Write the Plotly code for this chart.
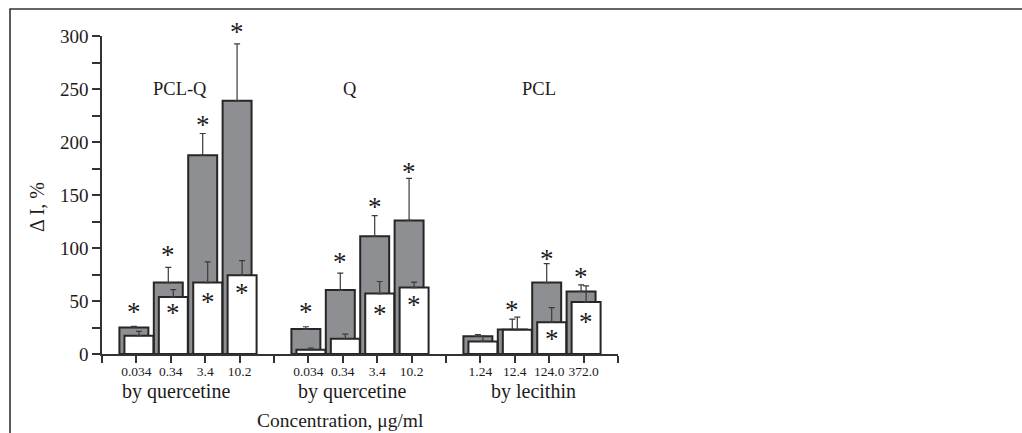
import plotly.graph_objects as go

# ---- data ----
slot_labels = ["", "0.034", "0.34", "3.4", "10.2", "", "0.034", "0.34", "3.4", "10.2",
               "", "1.24", "12.4", "124.0", "372.0", ""]
slots = [1, 2, 3, 4, 6, 7, 8, 9, 11, 12, 13, 14]

gray_vals = [25.0, 67.4, 187.5, 239.0, 23.5, 60.3, 111.0, 126.0, 16.7, 23.0, 67.4, 59.0]
gray_err = [1.0, 14.4, 20.5, 53.5, 2.2, 16.0, 19.5, 39.7, 1.7, 9.9, 17.9, 6.2]
white_vals = [17.2, 53.7, 67.4, 74.4, 4.0, 14.4, 57.0, 62.7, 11.9, 22.8, 30.0, 49.0]
white_err = [4.1, 7.1, 19.6, 13.6, 1.6, 4.4, 11.4, 5.1, 5.1, 11.9, 13.8, 15.3]

# asterisk heights (None = no asterisk)
star_above = [42.7, 96.3, 218.7, 306.3, 42.7, 90.0, 141.2, 174.8, None, 44.8, 92.6, 75.3]
star_inside = [None, 41.7, 52.1, 60.5, None, None, 41.0, 49.2, None, None, 16.6, 33.2]

group_names = ["PCL-Q", "Q", "PCL"]
group_name_pos = [2.28, 7.2, 12.7]
group_name_level = 250
by_labels = ["by quercetine", "by quercetine", "by lecithin"]
by_label_pos = [2.16, 7.28, 12.55]

Y_MAX = 300
y_ticks = list(range(0, Y_MAX + 1, 25))
y_ticktext = [str(v) if v % 50 == 0 else "" for v in y_ticks]

# ---- style ----
FONT = "Liberation Serif"
INK = "#1e1b1c"
GRAY = "#8e8f93"
EDGE = "#262626"
BW = 0.842
SHIFT = 0.073

fig = go.Figure()

fig.add_trace(go.Bar(
    x=slots, y=gray_vals, width=BW, offset=-SHIFT - BW / 2,
    marker=dict(color=GRAY, line=dict(color=EDGE, width=2)),
    error_y=dict(type="data", symmetric=False, array=gray_err,
                 arrayminus=[0] * len(gray_err), color="#3a3a3a",
                 thickness=1.2, width=3),
    showlegend=False, cliponaxis=False,
))
fig.add_trace(go.Bar(
    x=slots, y=white_vals, width=BW, offset=SHIFT - BW / 2,
    marker=dict(color="white", line=dict(color=EDGE, width=2)),
    error_y=dict(type="data", symmetric=False, array=white_err,
                 arrayminus=[0] * len(white_err), color="#3a3a3a",
                 thickness=1.2, width=3),
    showlegend=False, cliponaxis=False,
))

annotations = []

# asterisks (paper y = value / axis max so that ones above the range still show)
for s, v in zip(slots, star_above):
    if v is not None:
        annotations.append(dict(x=s - SHIFT, y=v / Y_MAX, xref="x", yref="paper", text="*",
                                showarrow=False, yshift=-3,
                                font=dict(family=FONT, size=27, color=INK),
                                xanchor="center", yanchor="middle"))
for s, v in zip(slots, star_inside):
    if v is not None:
        annotations.append(dict(x=s + SHIFT, y=v / Y_MAX, xref="x", yref="paper", text="*",
                                showarrow=False, yshift=-3,
                                font=dict(family=FONT, size=27, color=INK),
                                xanchor="center", yanchor="middle"))

for name, pos in zip(group_names, group_name_pos):
    annotations.append(dict(x=pos, y=group_name_level, xref="x", yref="y", text=name,
                            showarrow=False, font=dict(family=FONT, size=18.5, color=INK),
                            xanchor="center", yanchor="middle"))
for name, pos in zip(by_labels, by_label_pos):
    annotations.append(dict(x=pos, y=-0.117, xref="x", yref="paper", text=name,
                            showarrow=False, font=dict(family=FONT, size=20, color=INK),
                            xanchor="center", yanchor="middle", borderpad=0))
annotations.append(dict(x=6.92, y=-0.21, xref="x", yref="paper", text="Concentration, μg/ml",
                        showarrow=False, font=dict(family=FONT, size=19.5, color=INK),
                        xanchor="center", yanchor="middle", borderpad=0))
annotations.append(dict(x=-0.126, y=0.462, xref="paper", yref="paper", text="Δ I, %",
                        showarrow=False, textangle=-90,
                        font=dict(family=FONT, size=20, color=INK),
                        xanchor="center", yanchor="middle"))

fig.update_layout(
    width=1022, height=433,
    margin=dict(l=102, r=404, t=36, b=79),
    paper_bgcolor="white", plot_bgcolor="white",
    barmode="overlay",
    font=dict(family=FONT, color=INK),
    annotations=annotations,
    shapes=[dict(type="path", xref="paper", yref="paper",
                 path="M -0.1783,-0.26 L -0.1783,1.0849 L 1.79,1.0849",
                 line=dict(color="#333333", width=1.6))],
)
fig.update_xaxes(
    range=[0, 15], tickmode="array", tickvals=list(range(16)), ticktext=slot_labels,
    showline=True, linecolor="#333333", linewidth=1.6,
    ticks="outside", ticklen=7, tickwidth=1.5, tickcolor="#333333",
    tickfont=dict(family=FONT, size=13.5, color=INK),
    ticklabelstandoff=-3,
    showgrid=False, zeroline=False, tickangle=0,
)
fig.update_yaxes(
    range=[0, Y_MAX], tickmode="array", tickvals=y_ticks, ticktext=y_ticktext,
    showline=True, linecolor="#333333", linewidth=1.6,
    ticks="outside", ticklen=8, tickwidth=1.5, tickcolor="#333333",
    tickfont=dict(family=FONT, size=19, color=INK),
    showgrid=False, zeroline=False,
)

fig.write_html("out.html")
